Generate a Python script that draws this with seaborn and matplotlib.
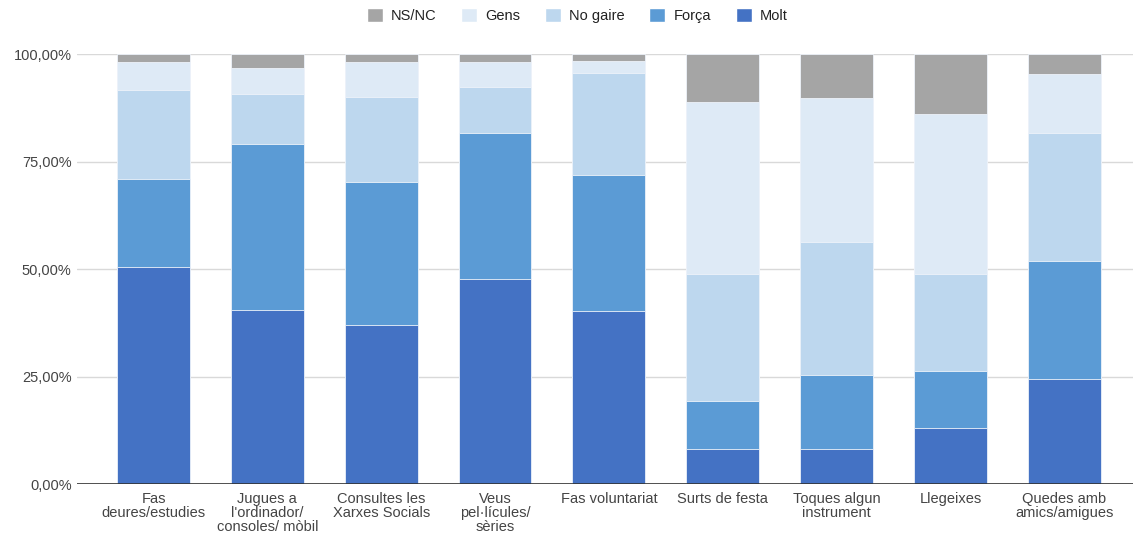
import numpy as np
import pandas as pd
import matplotlib
matplotlib.use('Agg')
import matplotlib.pyplot as plt
import seaborn as sns
from matplotlib.ticker import FuncFormatter
from matplotlib.patches import Patch

categories = ['Fas\ndeures/estudies', "Jugues a\nl'ordinador/\nconsoles/ mòbil",
              'Consultes les\nXarxes Socials', 'Veus\npel·lícules/\nsèries',
              'Fas voluntariat', 'Surts de festa', 'Toques algun\ninstrument',
              'Llegeixes', 'Quedes amb\namics/amigues']

# share of answers per activity (%), bottom to top
molt = [50.5, 40.4, 37.0, 47.7, 40.2, 8.1, 8.1, 13.1, 24.5]
forca = [20.4, 38.7, 33.2, 33.9, 31.8, 11.1, 17.2, 13.3, 27.3]
no_gaire = [20.7, 11.7, 19.9, 10.7, 23.7, 29.6, 31.1, 22.4, 29.8]
gens = [6.5, 6.0, 8.0, 5.8, 2.7, 40.1, 33.4, 37.3, 13.7]
nsnc = [1.9, 3.2, 1.9, 1.9, 1.6, 11.1, 10.2, 13.9, 4.7]

series = ['Molt', 'Força', 'No gaire', 'Gens', 'NS/NC']
colors = ['#4472C4', '#5B9BD5', '#BDD7EE', '#DEEAF6', '#A5A5A5']

sns.set_style('white')
plt.rcParams['font.family'] = ['Liberation Sans', 'DejaVu Sans']

df = pd.DataFrame({'cat': categories, 'Molt': molt, 'Força': forca,
                   'No gaire': no_gaire, 'Gens': gens, 'NS/NC': nsnc})
cum = df[series].cumsum(axis=1) / 100.0

fig = plt.figure(figsize=(11.36, 5.36), dpi=100)
ax = fig.add_axes([0.068, 0.097, 0.929, 0.802])

# draw tallest stack first so the lower segments sit on top of it
for name, col in reversed(list(zip(series, colors))):
    sns.barplot(x=df['cat'], y=cum[name], color=col, width=0.64, saturation=1,
                edgecolor='#eef3fa', linewidth=0.6, ax=ax, zorder=3)

ax.set_ylim(0, 1.0)
ax.set_xlim(-0.67, 8.6)
ax.set_yticks([0, 0.25, 0.5, 0.75, 1.0])
ax.yaxis.set_major_formatter(FuncFormatter(lambda v, p: f'{v*100:.2f}%'.replace('.', ',')))
ax.grid(axis='y', color='#d9d9d9', linewidth=1, zorder=0)
ax.axhline(0, color='#333333', linewidth=1.2, zorder=4)
for s in ax.spines.values():
    s.set_visible(False)
ax.set_xlabel('')
ax.set_ylabel('')
ax.tick_params(axis='both', length=0, labelsize=10.5, colors='#444444')
ax.tick_params(axis='y', pad=4)
ax.tick_params(axis='x', pad=6)
for lbl in ax.get_xticklabels():
    lbl.set_linespacing(0.98)

handles = [Patch(facecolor=c, label=n) for n, c in zip(series, colors)][::-1]
fig.legend(handles=handles, loc='upper center', bbox_to_anchor=(0.508, 1.01),
           ncol=5, frameon=False, fontsize=10.5, handlelength=1.1, handleheight=1.1,
           columnspacing=1.7, handletextpad=0.55, labelcolor='#222222')

fig.savefig('out.png', dpi=100)
